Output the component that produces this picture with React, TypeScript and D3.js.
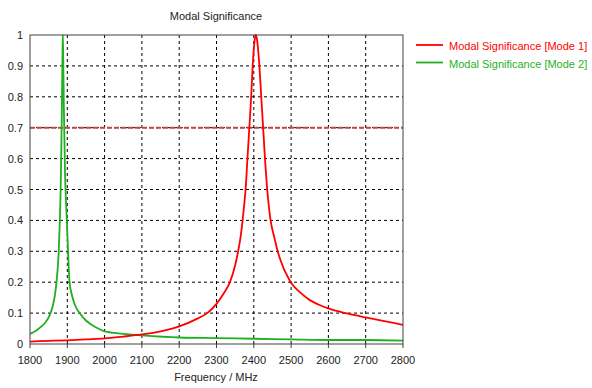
import React from "react";
import * as d3 from "d3";

const xTicks = [1800, 1900, 2000, 2100, 2200, 2300, 2400, 2500, 2600, 2700, 2800];
const yTicks = [0, 0.1, 0.2, 0.3, 0.4, 0.5, 0.6, 0.7, 0.8, 0.9, 1];
const yTickLabels = ["0", "0.1", "0.2", "0.3", "0.4", "0.5", "0.6", "0.7", "0.8", "0.9", "1"];

const mode1Freq = [1800, 1850, 1900, 1950, 2000, 2050, 2100, 2150, 2200, 2250, 2275, 2300, 2320, 2336, 2350, 2358, 2365, 2370, 2375, 2378, 2383, 2388, 2393, 2397, 2403, 2405, 2408, 2415, 2420, 2425, 2430, 2436, 2445, 2455, 2464, 2472, 2480, 2490, 2500, 2525, 2550, 2575, 2600, 2650, 2700, 2750, 2800];
const mode1Val = [0.008, 0.010, 0.012, 0.015, 0.018, 0.024, 0.031, 0.041, 0.057, 0.083, 0.100, 0.130, 0.165, 0.200, 0.255, 0.300, 0.350, 0.400, 0.460, 0.500, 0.600, 0.700, 0.800, 0.900, 0.990, 1.000, 0.990, 0.900, 0.800, 0.700, 0.600, 0.500, 0.400, 0.345, 0.300, 0.270, 0.245, 0.220, 0.198, 0.166, 0.142, 0.127, 0.115, 0.099, 0.086, 0.074, 0.062];

const mode2Freq = [1800, 1815, 1830, 1840, 1850, 1855, 1862, 1867, 1871, 1877, 1880, 1883, 1885, 1887, 1888, 1889, 1891, 1894, 1898, 1902, 1906, 1912, 1920, 1933, 1950, 1975, 2000, 2050, 2100, 2200, 2300, 2400, 2500, 2600, 2700, 2800];
const mode2Val = [0.033, 0.042, 0.056, 0.068, 0.086, 0.100, 0.128, 0.160, 0.200, 0.300, 0.400, 0.550, 0.720, 0.920, 1.000, 0.930, 0.750, 0.550, 0.420, 0.300, 0.200, 0.160, 0.128, 0.100, 0.076, 0.055, 0.041, 0.033, 0.028, 0.021, 0.019, 0.017, 0.015, 0.013, 0.013, 0.011];

const threshold = 0.7;
const seriesNames = ["Modal Significance [Mode 1]", "Modal Significance [Mode 2]"];
const colors = ["#ff0000", "#1fb01f"];

export default function App() {
  const W = 592, H = 388;
  const left = 30, right = 403, top = 35, bottom = 344;
  const x = d3.scaleLinear().domain([1800, 2800]).range([left, right]);
  const y = d3.scaleLinear().domain([0, 1]).range([bottom, top]);
  const line = d3.line<[number, number]>().x(d => x(d[0])).y(d => y(d[1])).curve(d3.curveMonotoneX);
  const s1 = mode1Freq.map((f, i) => [f, mode1Val[i]] as [number, number]);
  const s2 = mode2Freq.map((f, i) => [f, mode2Val[i]] as [number, number]);
  const font = "'Liberation Sans', Arial, sans-serif";
  return (
    <svg width={W} height={H} style={{ position: "absolute", left: 0, top: 0, background: "#fff" }} fontFamily={font} fontSize={11}>
      <rect x={0} y={0} width={W} height={H} fill="#fff" />
      <defs>
        <clipPath id="plotclip">
          <rect x={left} y={top - 1} width={right - left} height={bottom - top + 2} />
        </clipPath>
      </defs>
      {xTicks.slice(1, -1).map(t => (
        <line key={"gx" + t} x1={x(t)} x2={x(t)} y1={top} y2={bottom} stroke="#000" strokeWidth={1} strokeDasharray="3,3" />
      ))}
      {yTicks.slice(1, -1).map(t => (
        <line key={"gy" + t} x1={left} x2={right} y1={y(t)} y2={y(t)} stroke="#000" strokeWidth={1} strokeDasharray="3,3" />
      ))}
      <line x1={left} x2={right} y1={y(threshold)} y2={y(threshold)} stroke="#c04848" strokeWidth={2} strokeDasharray="5,2" />
      <g clipPath="url(#plotclip)">
        <path d={line(s2) || ""} fill="none" stroke={colors[1]} strokeWidth={1.8} strokeLinejoin="round" />
        <path d={line(s1) || ""} fill="none" stroke={colors[0]} strokeWidth={1.8} strokeLinejoin="round" />
      </g>
      <rect x={left} y={top} width={right - left} height={bottom - top} fill="none" stroke="#404040" strokeWidth={1} />
      {xTicks.map(t => (
        <g key={"xt" + t}>
          <line x1={x(t)} x2={x(t)} y1={bottom} y2={bottom + 4} stroke="#404040" />
          <text x={x(t)} y={364} textAnchor="middle" fill="#222">{t}</text>
        </g>
      ))}
      {yTicks.map((t, i) => (
        <text key={"yt" + t} x={23} y={y(t) + 4} textAnchor="end" fill="#222">{yTickLabels[i]}</text>
      ))}
      <text x={216} y={19.5} textAnchor="middle" fill="#222">Modal Significance</text>
      <text x={216} y={381} textAnchor="middle" fill="#222">Frequency / MHz</text>
      {seriesNames.map((n, i) => (
        <g key={n}>
          <line x1={416} x2={443} y1={45 + i * 17.5} y2={45 + i * 17.5} stroke={colors[i]} strokeWidth={1.8} />
          <text x={449} y={50 + i * 17.5} fill={colors[i]}>{n}</text>
        </g>
      ))}
    </svg>
  );
}
